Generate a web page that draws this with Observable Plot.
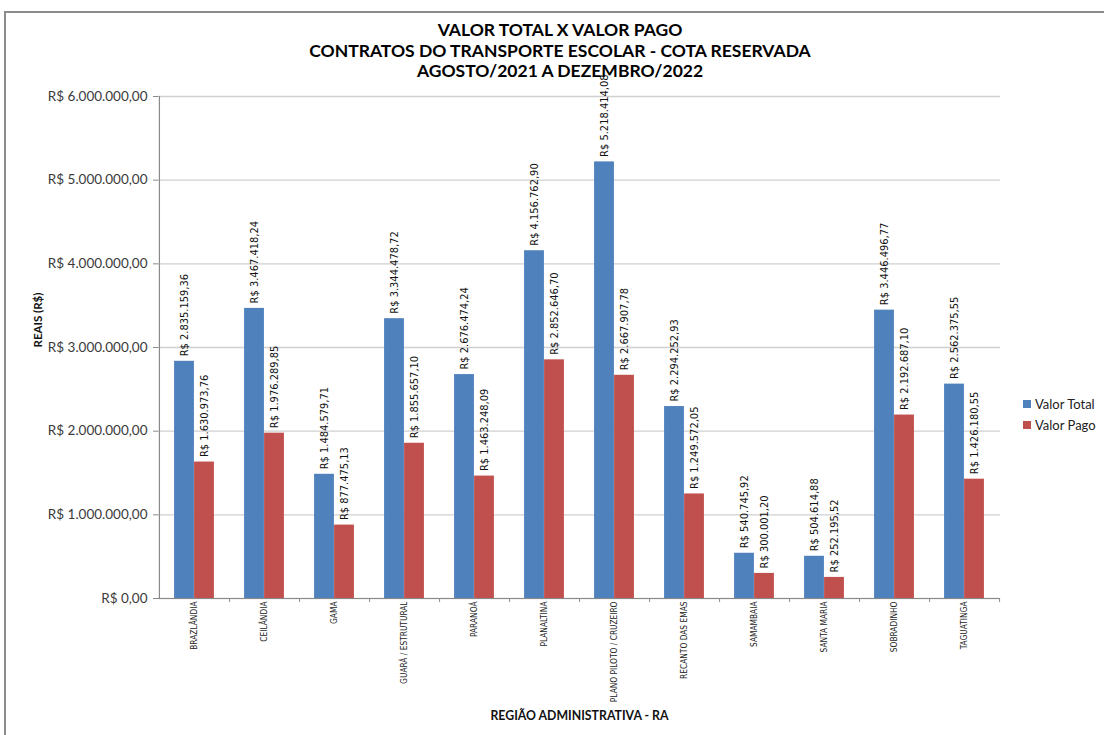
<!DOCTYPE html>
<html>
<head>
<meta charset="utf-8">
<script src="https://cdn.jsdelivr.net/npm/d3@7"></script>
<script src="https://cdn.jsdelivr.net/npm/@observablehq/plot@0.6"></script>
<style>
  html, body { margin: 0; padding: 0; background: #fff; }
  #page { position: relative; width: 1104px; height: 735px; overflow: hidden; }
  #frame { position: absolute; left: 4px; top: 11px; width: 1200px; height: 800px;
           border-left: 2px solid #8c8c8c; border-top: 2px solid #8c8c8c; }
  #title { position: absolute; left: 0; width: 1120px; top: 20px; text-align: center;
           font-family: Lato, "Open Sans", sans-serif; font-weight: bold; font-size: 17.5px;
           line-height: 20.5px; color: #000; z-index: 2; }
  #chart { position: absolute; left: 0; top: 0; }
  #legend { position: absolute; left: 1023px; top: 393px; font-family: Lato, sans-serif;
            font-size: 13px; color: #222; }
  #legend div { height: 21px; display: flex; align-items: center; }
  #legend span.sw { display: inline-block; width: 8px; height: 8px; margin-right: 4px; }
</style>
</head>
<body>
<div id="page">
  <div id="frame"></div>
  <div id="chart"></div>
  <div id="title"></div>
  <div id="legend"></div>
</div>
<script>
// Regiões administrativas (categorias do eixo X)
const regioes = [
  "BRAZLÂNDIA", "CEILÂNDIA", "GAMA", "GUARÁ / ESTRUTURAL", "PARANOÁ", "PLANALTINA",
  "PLANO PILOTO / CRUZEIRO", "RECANTO DAS EMAS", "SAMAMBAIA", "SANTA MARIA",
  "SOBRADINHO", "TAGUATINGA"
];
// Valor total dos contratos (R$)
const valorTotal = [
  2835159.36, 3467418.24, 1484579.71, 3344478.72, 2676474.24, 4156762.90,
  5218414.08, 2294252.93, 540745.92, 504614.88, 3446496.77, 2562375.55
];
// Valor efetivamente pago (R$)
const valorPago = [
  1630973.76, 1976289.85, 877475.13, 1855657.10, 1463248.09, 2852646.70,
  2667907.78, 1249572.05, 300001.20, 252195.52, 2192687.10, 1426180.55
];
const series = ["Valor Total", "Valor Pago"];
const cores = ["#4f81bd", "#c0504d"];
const yTicks = [0, 1000000, 2000000, 3000000, 4000000, 5000000, 6000000];
const titulo = [
  "VALOR TOTAL X VALOR PAGO",
  "CONTRATOS DO TRANSPORTE ESCOLAR - COTA RESERVADA",
  "AGOSTO/2021 A DEZEMBRO/2022"
];
const tituloX = "REGIÃO ADMINISTRATIVA - RA";
const tituloY = "REAIS (R$)";

const brl = d3.formatLocale({
  decimal: ",", thousands: ".", grouping: [3], currency: ["R$ ", ""]
}).format("$,.2f");

const total = regioes.map((r, i) => ({regiao: r, valor: valorTotal[i]}));
const pago = regioes.map((r, i) => ({regiao: r, valor: valorPago[i]}));

const W = 1104, H = 735, ML = 158, MR = 104, MT = 96, MB = 137;
const half = (W - ML - MR) / regioes.length / 2;
const barW = 20;
const labelFont = '"Liberation Sans Narrow", "DejaVu Sans Condensed", sans-serif';

const chart = Plot.plot({
  width: W, height: H,
  marginLeft: ML, marginRight: MR, marginTop: MT, marginBottom: MB,
  style: {background: "transparent", overflow: "visible", fontFamily: "Lato, sans-serif"},
  x: {type: "band", domain: regioes, padding: 0},
  y: {domain: [0, 6000000]},
  marks: [
    Plot.gridY(yTicks, {stroke: "#d0d0d0", strokeOpacity: 1, strokeWidth: 1.4}),
    // eixo Y: linha, marcas e rótulos em reais
    Plot.ruleX([regioes[0]], {dx: -half, stroke: "#8a8a8a", strokeWidth: 1.2}),
    Plot.axisY(yTicks, {tickSize: 5, tickPadding: 6, tickFormat: brl, fontSize: 13.5,
      fill: "#3a3a3a", stroke: "#8a8a8a", label: null}),
    Plot.barY(total, {x: "regiao", y: "valor", fill: cores[0],
      insetLeft: half - barW, insetRight: half}),
    Plot.barY(pago, {x: "regiao", y: "valor", fill: cores[1],
      insetLeft: half, insetRight: half - barW}),
    // eixo X: linha de base, marcas entre as categorias e nomes das regiões
    Plot.ruleY([0], {stroke: "#8a8a8a", strokeWidth: 1.2}),
    Plot.axisX({tickSize: 4, text: null, dx: half, stroke: "#8a8a8a", label: null}),
    Plot.axisX({tickSize: 0, tickPadding: 3, tickRotate: -90, fontSize: 8.3,
      fontFamily: labelFont, fill: "#222", label: null}),
    // rótulos de valor acima de cada barra
    Plot.text(total, {x: "regiao", y: "valor", text: d => brl(d.valor), rotate: -90,
      textAnchor: "start", lineAnchor: "middle", dx: -barW / 2, dy: -5,
      fontSize: 11, fontFamily: labelFont, fill: "#111"}),
    Plot.text(pago, {x: "regiao", y: "valor", text: d => brl(d.valor), rotate: -90,
      textAnchor: "start", lineAnchor: "middle", dx: barW / 2, dy: -5,
      fontSize: 11, fontFamily: labelFont, fill: "#111"}),
    // títulos dos eixos
    Plot.text([tituloX], {frameAnchor: "bottom", dy: 121, fontWeight: "bold",
      fontSize: 12.3, fill: "#111"}),
    Plot.text([tituloY], {frameAnchor: "left", dx: -120, rotate: -90, fontWeight: "bold",
      fontSize: 11.5, fill: "#111"})
  ]
});
document.getElementById("chart").append(chart);

document.getElementById("title").innerHTML = titulo.map(t => `<div>${t}</div>`).join("");
document.getElementById("legend").innerHTML = series.map((s, i) =>
  `<div><span class="sw" style="background:${cores[i]}"></span>${s}</div>`).join("");
</script>
</body>
</html>
